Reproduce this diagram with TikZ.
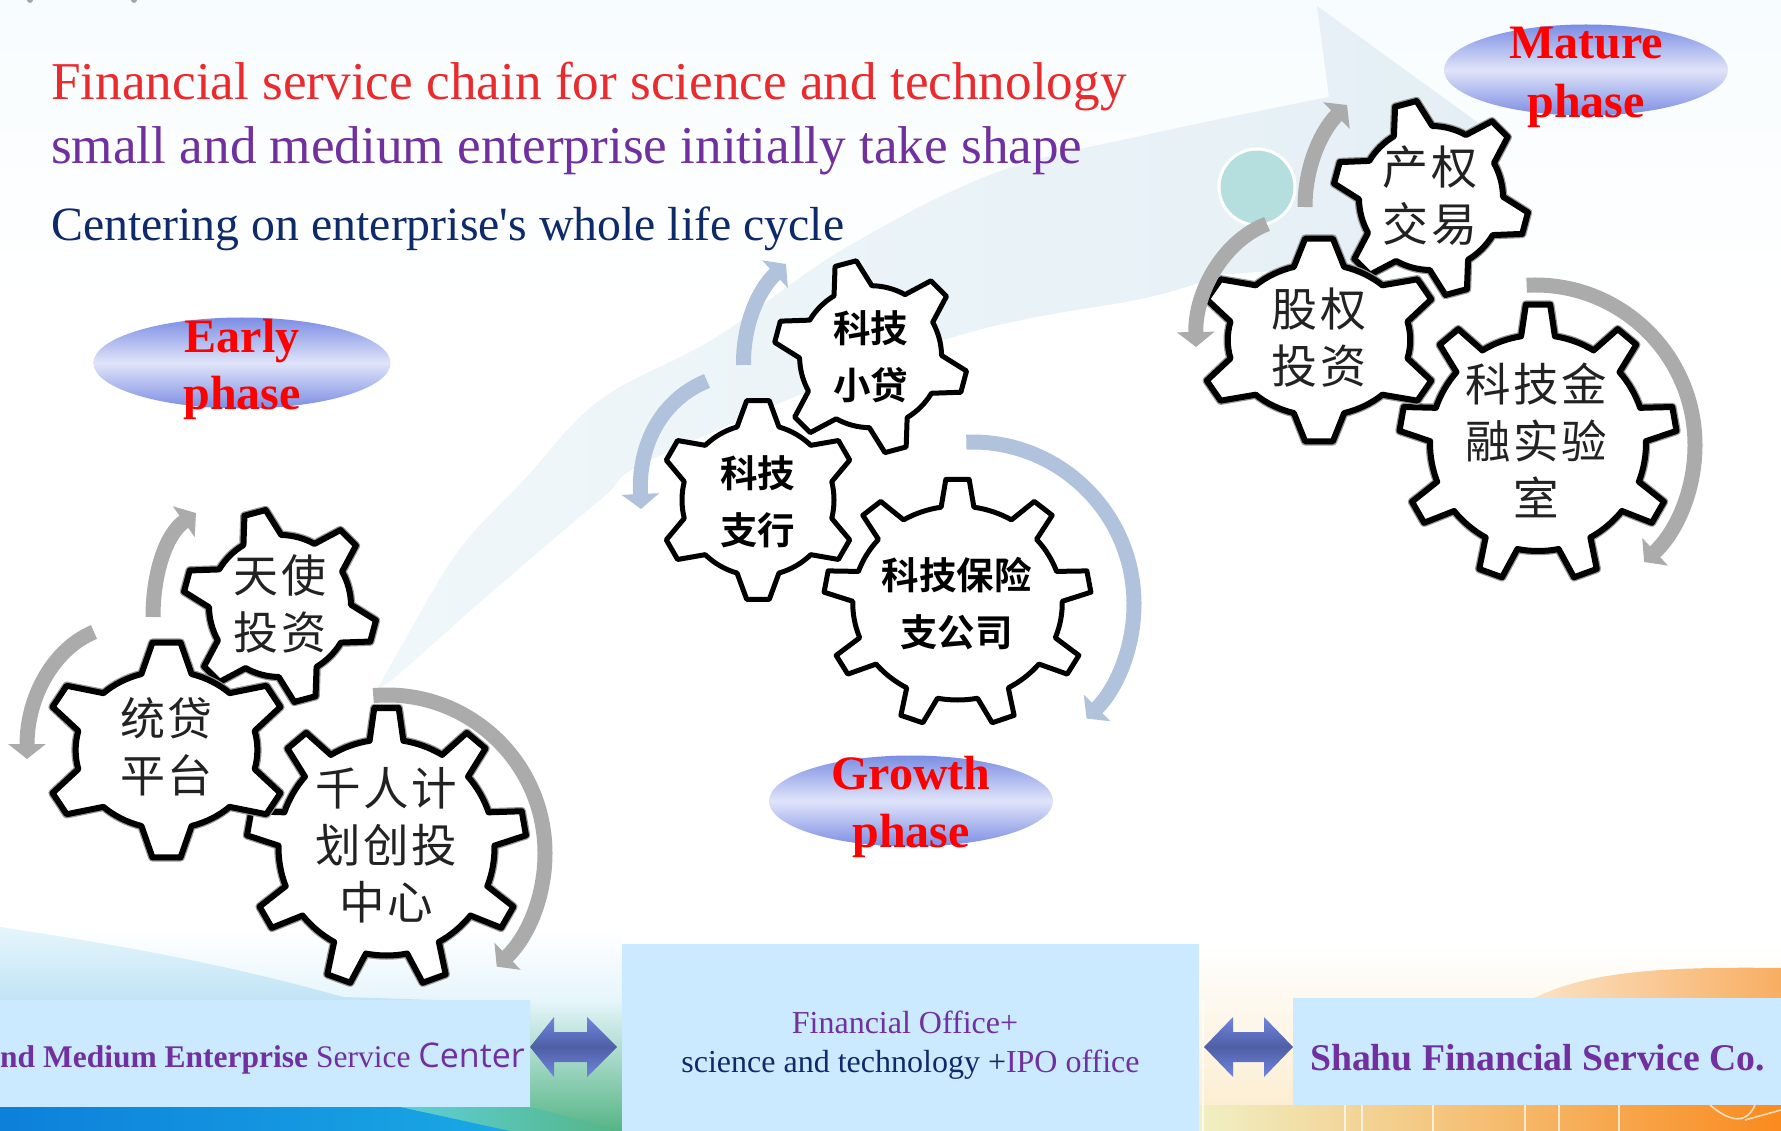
\documentclass[tikz,border=0pt]{standalone}
\usepackage{fontspec}
\setmainfont{Liberation Serif}
\newfontfamily\srfplain{Liberation Serif}
\newfontfamily\cjk[LetterSpace=6]{Noto Sans CJK SC}
\newfontfamily\cjkb{Noto Sans CJK SC}[BoldFont=* Bold]
\newfontfamily\opens{Open Sans}
\usetikzlibrary{arrows.meta,shapes.geometric,calc}
\definecolor{bxblue}{HTML}{CBEAFF}
\definecolor{purp}{HTML}{7030A0}
\definecolor{navy}{HTML}{0F2A6B}
\definecolor{titlered}{HTML}{EB2A2E}
\definecolor{elldark}{HTML}{7B8DE4}
\definecolor{elllight}{HTML}{E0E4F9}
\definecolor{arcgray}{HTML}{ABABAB}
\definecolor{arcblue}{HTML}{B0C2DC}
\definecolor{bandc}{HTML}{E4EFF5}
\definecolor{bandl}{HTML}{F0F7FA}
\definecolor{arrlight}{HTML}{7085DE}
\definecolor{arrdark}{HTML}{4F5FA5}
\definecolor{txtdark}{HTML}{222222}
\definecolor{bgtop}{HTML}{F7FCFE}
\definecolor{wavetop}{HTML}{E6F5FB}
\definecolor{wavebot}{HTML}{8CCBEF}
\definecolor{gapb}{HTML}{55B585}
\definecolor{stripa}{HTML}{0D80DA}
\definecolor{stripb}{HTML}{1AA8E4}
\definecolor{stripc}{HTML}{5DCFD8}
\definecolor{cremb}{HTML}{FBEBCB}
\definecolor{hilla}{HTML}{FBE3C6}
\definecolor{hillb}{HTML}{F8AE62}
\definecolor{botta}{HTML}{F0F0C4}
\definecolor{bottb}{HTML}{EDB656}
\definecolor{bottc}{HTML}{FA8A1E}
\definecolor{circc}{HTML}{B5DEDF}
\tikzset{
  gearsoft/.style={draw=black,fill=white,line width=6pt,line join=round,
     preaction={draw=black!40,line width=8.5pt,line join=round}},
  gearsharp/.style={draw=black,fill=white,line width=5pt,line join=round},
  garc/.style={draw=arcgray,line width=15pt,-{Triangle[length=15pt,width=37pt]}},
  barc/.style={draw=arcblue,line width=15pt,-{Triangle[length=15pt,width=37pt]}},
  phaseell/.style={ellipse,draw=none,minimum width=#1,minimum height=91pt,inner sep=0pt,
     top color=elldark,bottom color=elldark,middle color=elllight},
  phasetxt/.style={align=center,inner sep=0pt,text=red,font=\bfseries\fontsize{48}{#1}\selectfont},
  softtxt/.style={align=center,inner sep=0pt,text=txtdark,font=\cjk\fontsize{#1}{57}\selectfont},
  boldtxt/.style={align=center,inner sep=0pt,text=black,font=\cjkb\bfseries\fontsize{37.5}{57}\selectfont},
  titletxt/.style={anchor=base west,inner sep=0pt},
  bxrect/.style={fill=bxblue,draw=none},
  dblarrow/.style={top color=arrlight,bottom color=arrlight,middle color=arrdark,draw=none},
  wline/.style={draw=white,opacity=.7,line width=1.6pt},
}
% #1 style, #2 centre, #3 xscale, #4 outer R, #5 root r, #6 teeth, #7 first angle, #8 tip half, #9 base half
\newcommand\gearshape[9]{%
  \pgfmathsetmacro\gst{360/#6}%
  \pgfmathtruncatemacro\gn{#6-1}%
  \begin{scope}[shift={#2},xscale=#3]
    \draw[#1] ({#7-#9}:#5)
      \foreach \k [evaluate=\k as \aA using #7+\k*\gst-#9,
                   evaluate=\k as \aB using #7+\k*\gst-#8,
                   evaluate=\k as \aC using #7+\k*\gst+#8,
                   evaluate=\k as \aD using #7+\k*\gst+#9,
                   evaluate=\k as \aE using #7+(\k+1)*\gst-#9] in {0,...,\gn}
      { -- (\aA:#5) -- (\aB:#4) -- (\aC:#4) -- (\aD:#5)
        arc[start angle=\aD,end angle=\aE,radius=#5pt] } -- cycle;
  \end{scope}}
\begin{document}
\begin{tikzpicture}[x=1pt,y=1pt,yscale=-1]
\useasboundingbox (0,0) rectangle (1781,1131);
% ---------- background
\fill[white] (0,0) rectangle (1781,1131);
\shade[top color=bgtop,bottom color=white] (0,0) rectangle (1781,300);
\shade[top color=white,bottom color=cremb] (1100,944) rectangle (1781,1131);
\shade[top color=white,bottom color=wavetop] (0,930) rectangle (622,1000);
\shade[top color=wavetop,bottom color=gapb] (343,1000) rectangle (622,1131);
\shade[top color=wavetop,bottom color=wavebot]
   (0,927) .. controls (120,945) and (230,965) .. (343,997) -- (530,1003) -- (530,1107) -- (0,1107) -- cycle;
\shade[left color=stripc,right color=gapb] (400,1107) -- (530,1107) -- (622,1131) -- (500,1131) -- cycle;
\shade[left color=stripa,right color=stripb] (0,1107) -- (400,1107) -- (510,1131) -- (0,1131) -- cycle;
% orange hill
\shade[left color=hilla,right color=hillb]
   (1530,1000) .. controls (1580,975) and (1640,966) .. (1781,968) -- (1781,1105) -- (1530,1105) -- cycle;
\shade[left color=botta,middle color=bottb,right color=bottc] (1199,1105) rectangle (1781,1131);
\draw[wline] (1203,1000) -- (1203,1131);
\foreach \xx in {1345,1362,1433,1525,1559,1619} {\draw[wline] (\xx,1105) -- (\xx,1131);}
\draw[wline] (1710,1105) .. controls (1725,1118) and (1745,1128) .. (1755,1105);
\draw[wline] (1745,1120) -- (1781,1110);
% small marks at the top edge
\fill[black!35] (30,0) circle (3pt);
\fill[black!35] (134,0) circle (3pt);
% ---------- growth band
\shade[left color=bandl,right color=bandc]
  plot[smooth,tension=.6] coordinates {(378,688) (406,638) (459,550) (524,480) (600,400) (715,338) (842,250) (995,173) (1150,134) (1329,97)}
  -- (1317,6) -- (1495,135) -- (1400,262) -- (1218,275)
  -- plot[smooth,tension=.6] coordinates {(1218,275) (1150,297) (944,340) (661,455) (600,500) (478,604) (398,675) (378,688)}
  -- cycle;
\draw[white,line width=3pt,fill=circc] (1257,187) circle (38pt);
% ---------- boxes
\fill[bxrect] (0,1000) rectangle (530,1107);
\fill[bxrect] (622,944) rectangle (1199,1131);
\fill[bxrect] (1293,998) rectangle (1781,1105);
\shade[dblarrow] (530,1047) -- (554,1017) -- (554,1032) -- (587,1032) -- (587,1017) -- (617,1047) -- (587,1077) -- (587,1062) -- (554,1062) -- (554,1077) -- cycle;
\shade[dblarrow] (1204,1047) -- (1233,1017) -- (1233,1032) -- (1264,1032) -- (1264,1017) -- (1293,1047) -- (1264,1077) -- (1264,1062) -- (1233,1062) -- (1233,1077) -- cycle;
% ---------- titles
\node[titletxt,text=titlered,font=\fontsize{53.2}{55}\selectfont] (t1) at (51,100) {Financial service chain for science and technology};
\node[titletxt,text=purp,font=\fontsize{53.2}{55}\selectfont] (t2) at (51,164) {small and medium enterprise initially take shape};
\node[titletxt,text=navy,font=\srfplain\fontsize{47.8}{50}\selectfont] (t3) at (51,241) {Centering on enterprise's whole life cycle};
% ---------- left gears
\gearshape{gearsoft}{(280,606)}{1}{97}{71}{6}{-105}{6.5}{16}
\gearshape{gearsoft}{(386.5,847.5)}{1}{140}{108}{9}{-90}{5}{9}
\gearshape{gearsoft}{(166.5,750)}{1.15}{108}{79}{6}{-90}{6.5}{16}
\node[softtxt=45] (l1) at (280,604) {天使\\投资};
\node[softtxt=45] (l2) at (166.5,747) {统贷\\平台};
\node[softtxt=45.5] (l3) at (386.5,845) {千人计\\划创投\\中心};
% ---------- middle gears
\gearshape{gearsharp}{(870.6,356.7)}{1}{97}{71}{6}{-105}{6.5}{16}
\gearshape{gearsharp}{(758,500)}{1}{100}{76}{6}{-90}{6.5}{16}
\gearshape{gearsharp}{(957.5,603)}{1.08}{124}{97}{9}{-90}{5}{9}
\node[boldtxt] (m1) at (870.6,356.5) {科技\\小贷};
\node[boldtxt] (m2) at (757.7,501.5) {科技\\支行};
\node[boldtxt] (m3) at (956.7,604) {科技保险\\支公司};
% ---------- right gears
\gearshape{gearsoft}{(1431,198)}{1}{98}{72}{6}{-105}{6.5}{16}
\gearshape{gearsoft}{(1538,443)}{1}{139}{108}{9}{-90}{5}{9}
\gearshape{gearsoft}{(1319,340)}{1.2}{102}{76}{6}{-90}{6.5}{16}
\node[softtxt=46] (r1) at (1430,196) {产权\\交易};
\node[softtxt=46] (r2) at (1319,338) {股权\\投资};
\node[softtxt=45.5] (r3) at (1536,440) {科技金\\融实验\\室};
% ---------- phase ellipses
\node[phaseell=297pt] (ee) at (242,363) {};
\node[phaseell=284pt] (eg) at (911,801) {};
\node[phaseell=284pt] (em) at (1586,70) {};
\node[phasetxt=57] (te) at (242,369) {Early\\phase};
\node[phasetxt=58] (tg) at (911,807) {Growth\\phase};
\node[phasetxt=59] (tm) at (1586,77) {Mature\\phase};
% ---------- curved arrows
\coordinate (la) at (153,617);
\coordinate (lb) at (196,513);
\coordinate (lc) at (94,632);
\coordinate (ld) at (27,759);
\coordinate (lo) at (387,853);
\draw[garc] (la) .. controls (153,575) and (165,535) .. (lb);
\draw[garc] (lc) .. controls (55,648) and (27,695) .. (ld);
\draw[garc] ([shift={(-95:158)}]lo) arc[start angle=-95,end angle=46,radius=158pt];
\coordinate (ma) at (743.5,365);
\coordinate (mb) at (786,264);
\coordinate (mc) at (707,381);
\coordinate (md) at (641,509);
\coordinate (mo) at (972,604);
\draw[barc] (ma) .. controls (743,325) and (758,290) .. (mb);
\draw[barc] (mc) .. controls (665,398) and (638,440) .. (md);
\draw[barc] ([shift={(-92:162)}]mo) arc[start angle=-92,end angle=45,radius=162pt];
\coordinate (ra) at (1305,207);
\coordinate (rb) at (1347,105);
\coordinate (rc) at (1267,224);
\coordinate (rd) at (1196,347);
\coordinate (ro) at (1535,445);
\draw[garc] (ra) .. controls (1305,165) and (1322,130) .. (rb);
\draw[garc] (rc) .. controls (1225,240) and (1195,290) .. (rd);
\draw[garc] ([shift={(-93:160)}]ro) arc[start angle=-93,end angle=47,radius=160pt];
% ---------- box texts
\node[anchor=base west,inner sep=0pt,text=purp,font=\fontsize{31.5}{35}\selectfont] (bl) at (0,1067)
  {\textbf{nd Medium Enterprise} Service {\opens\fontsize{34}{35}\selectfont Center}};
\node[anchor=base,inner sep=0pt,text=purp,font=\fontsize{32}{34}\selectfont] (bc1) at (905,1033) {Financial Office+};
\node[anchor=base,inner sep=0pt,text=purp,font=\fontsize{32}{34}\selectfont] (bc2) at (910.5,1072) {\textcolor{navy}{science and technology +}IPO office};
\node[anchor=base west,inner sep=0pt,text=purp,font=\bfseries\fontsize{37.7}{40}\selectfont] (br) at (1310,1070) {Shahu Financial Service Co.};
\end{tikzpicture}
\end{document}
